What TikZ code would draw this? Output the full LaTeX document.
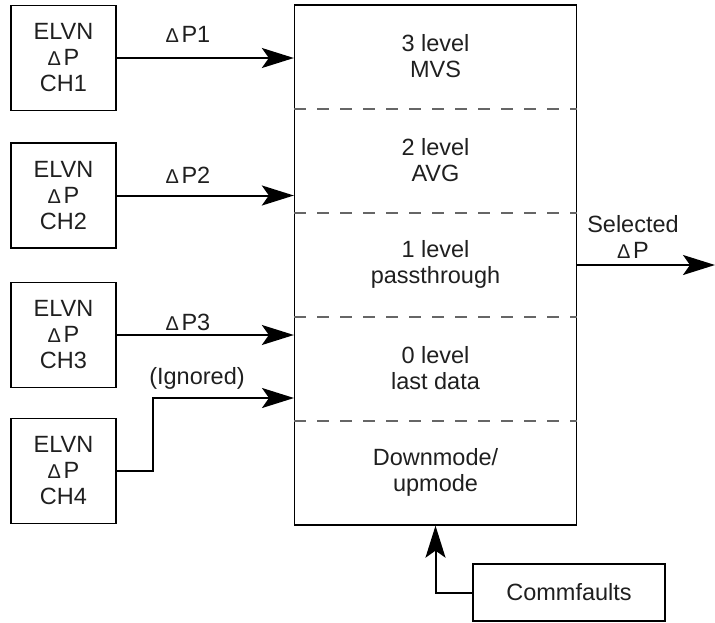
\documentclass[tikz,border=0pt]{standalone}
\usepackage{fontspec}
\setmainfont{Liberation Sans}
\usetikzlibrary{arrows.meta,calc}
\newcommand{\dlt}{{\fontsize{20}{20}\selectfont Δ}\hspace{2.5pt}}
\begin{document}
\begin{tikzpicture}[x=1pt,y=-1pt,
  every node/.style={font=\fontsize{23.5}{26}\selectfont, text=black!88, align=center, inner sep=0pt},
  chbox/.style={draw, line width=1.3pt, minimum width=105, minimum height=105},
  arr/.style={line width=2pt, -{Stealth[length=32pt,width=20pt,inset=7pt]}},
  sep/.style={dashed, dash pattern=on 12pt off 11pt, line width=1.3pt, draw=black!60}]
\useasboundingbox (0,0) rectangle (715,622);
% channel boxes
\node[chbox] (b1) at (63.5,58) {ELVN\\\dlt P\\CH1};
\node[chbox] (b2) at (63.5,195.5) {ELVN\\\dlt P\\CH2};
\node[chbox] (b3) at (63.5,335) {ELVN\\\dlt P\\CH3};
\node[chbox] (b4) at (63.5,471) {ELVN\\\dlt P\\CH4};
% main box
\node[draw, line width=1.3pt, minimum width=282, minimum height=520] (main) at (435.5,265) {};
\draw[sep] (294,109) -- (577,109);
\draw[sep] (294,213) -- (577,213);
\draw[sep] (294,317) -- (577,317);
\draw[sep] (294,421) -- (577,421);
\node (s3) at (435.5,56) {3 level\\MVS};
\node (s2) at (435.5,160) {2 level\\AVG};
\node (s1) at (435.5,264) {1 level\\passthrough};
\node (s0) at (435.5,368) {0 level\\last data};
\node (sd) at (435.5,472) {Downmode/\\upmode};
% inputs
\draw[arr] (b1.east) -- (b1.east -| main.west);
\draw[arr] (b2.east) -- (b2.east -| main.west);
\draw[arr] (b3.east) -- (b3.east -| main.west);
\coordinate (in4) at (294,398);
\draw[arr] (b4.east) -- ++(36,0) |- (in4);
\node (l1) at (188,34) {\dlt P1};
\node (l2) at (188,175) {\dlt P2};
\node (l3) at (188,322) {\dlt P3};
\node (l4) at (197,378) {(Ignored)};
% output
\coordinate (out) at (715,265);
\draw[arr] (main.east) -- (out);
\node (sel) at (633,237) {Selected\\\dlt P};
% commfaults
\node[draw, line width=1.3pt, minimum width=192, minimum height=57] (cf) at (569,592.5) {Commfaults};
\draw[arr] (cf.west) -| (main.south);
\end{tikzpicture}
\end{document}
